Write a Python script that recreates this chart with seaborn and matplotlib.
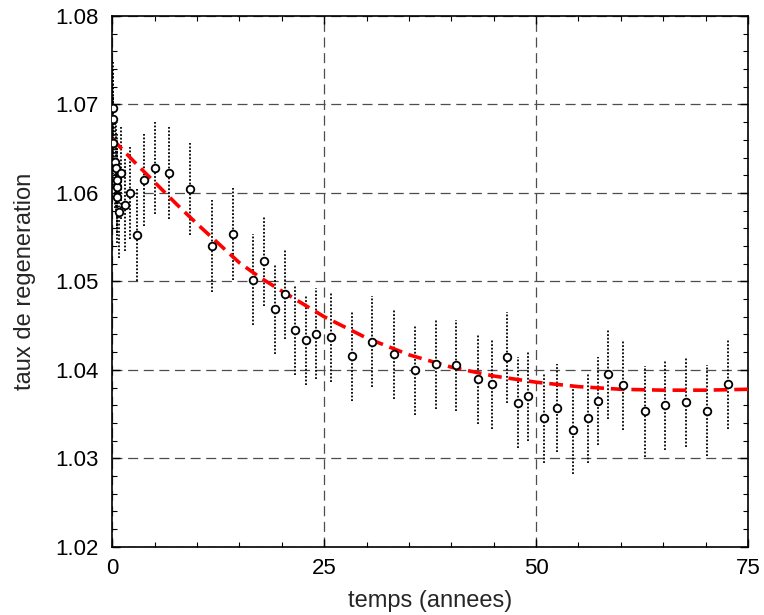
import numpy as np
import pandas as pd
import seaborn as sns
import matplotlib.pyplot as plt
from matplotlib.ticker import MultipleLocator, FixedLocator

# points mesures (temps en annees, taux, demi-barre d'erreur)
temps = [0.04, 0.1, 0.1, 0.27, 0.4, 0.5, 0.55, 0.6, 0.74, 0.97, 1.44, 2.03, 2.95,
         3.7, 5.03, 6.72, 9.22, 11.72, 14.19, 16.6, 17.9, 19.2, 20.4, 21.6, 22.8,
         24.05, 25.8, 28.3, 30.7, 33.25, 35.7, 38.2, 40.6, 43.1, 44.85, 46.6, 47.9,
         49.1, 50.9, 52.5, 54.4, 56.1, 57.3, 58.5, 60.25, 62.8, 65.25, 67.7, 70.2, 72.6]
taux = [1.0696, 1.0683, 1.0656, 1.0635, 1.0628, 1.0607, 1.0615, 1.0595, 1.0578, 1.0623,
        1.0586, 1.0600, 1.0552, 1.0615, 1.0628, 1.0623, 1.0604, 1.0540, 1.0553, 1.0502,
        1.0523, 1.0469, 1.0486, 1.0445, 1.0434, 1.0441, 1.0437, 1.0416, 1.0432, 1.0418,
        1.0400, 1.0407, 1.0405, 1.0390, 1.0384, 1.0414, 1.0363, 1.0370, 1.0345, 1.0357,
        1.0332, 1.0345, 1.0365, 1.0395, 1.0383, 1.0353, 1.0360, 1.0364, 1.0354, 1.0384]
erreur = [0.0052, 0.0052, 0.0052, 0.0052, 0.0052, 0.0052, 0.0052, 0.0052, 0.0052, 0.0052,
          0.0052, 0.0052, 0.0052, 0.0052, 0.0052, 0.0052, 0.0052, 0.0052, 0.0052, 0.0051,
          0.0051, 0.0051, 0.0051, 0.0051, 0.0051, 0.0051, 0.0051, 0.0051, 0.0051, 0.0051,
          0.0051, 0.0051, 0.0051, 0.0051, 0.0051, 0.0051, 0.0051, 0.0051, 0.0050, 0.0050,
          0.0050, 0.0050, 0.0050, 0.0051, 0.0051, 0.0051, 0.0051, 0.0051, 0.0051, 0.0051]

# courbe ajustee
temps_fit = [0, 2.5, 5, 7.5, 10, 12.5, 15, 17.5, 20, 25, 30, 35, 40, 45, 50, 55, 60, 65, 70, 75]
taux_fit = [1.0661, 1.0636, 1.0612, 1.0588, 1.0565, 1.0543, 1.0521, 1.0504, 1.0489, 1.0460,
            1.0436, 1.0417, 1.0403, 1.0393, 1.0386, 1.0381, 1.0378, 1.0377, 1.0377, 1.0378]

df = pd.DataFrame({"temps": temps, "taux": taux, "err": erreur})
df_fit = pd.DataFrame({"temps": temps_fit, "taux": taux_fit})

sns.set_theme(style="ticks")
plt.rcParams["font.family"] = ["Liberation Sans", "DejaVu Sans"]

fig = plt.figure(figsize=(7.64, 6.15), dpi=100)
ax = fig.add_axes([0.147, 0.111, 0.832, 0.863])

# barres d'erreur pointillees
ax.vlines(df["temps"], df["taux"] - df["err"], df["taux"] + df["err"],
          colors="black", linestyles=(0, (1, 1)), linewidth=1.3, zorder=2)

sns.lineplot(data=df_fit, x="temps", y="taux", ax=ax, color="red", linewidth=2.6,
             dashes=False, zorder=3)
ax.lines[-1].set_dashes((3.8, 1.9))

sns.scatterplot(data=df, x="temps", y="taux", ax=ax, marker="o", s=30,
                facecolor="white", edgecolor="black", linewidth=1.3, zorder=4)

ax.set_xlim(0, 75)
ax.set_ylim(1.02, 1.08)
ax.xaxis.set_major_locator(FixedLocator([0, 25, 50, 75]))
ax.xaxis.set_minor_locator(MultipleLocator(5))
ax.yaxis.set_major_locator(MultipleLocator(0.01))
ax.yaxis.set_minor_locator(MultipleLocator(0.002))
ax.set_yticklabels([f"{v:.2f}" for v in ax.get_yticks()])

ax.tick_params(which="both", direction="in", top=True, right=True, colors="black")
ax.tick_params(which="major", length=6, width=1, labelsize=16)
ax.tick_params(which="minor", length=3.5, width=0.8)
ax.tick_params(axis="y", which="major", pad=10)
ax.tick_params(axis="x", which="major", pad=8)

ax.grid(True, which="major", color="0.3", linewidth=0.9, linestyle=(0, (8, 4.5)))
for s in ax.spines.values():
    s.set_linewidth(1.2)
    s.set_color("black")

ax.set_xlabel("temps (annees)", fontsize=17, labelpad=8)
ax.set_ylabel("taux de regeneration", fontsize=17, labelpad=14)

fig.savefig("out.png", dpi=100)
